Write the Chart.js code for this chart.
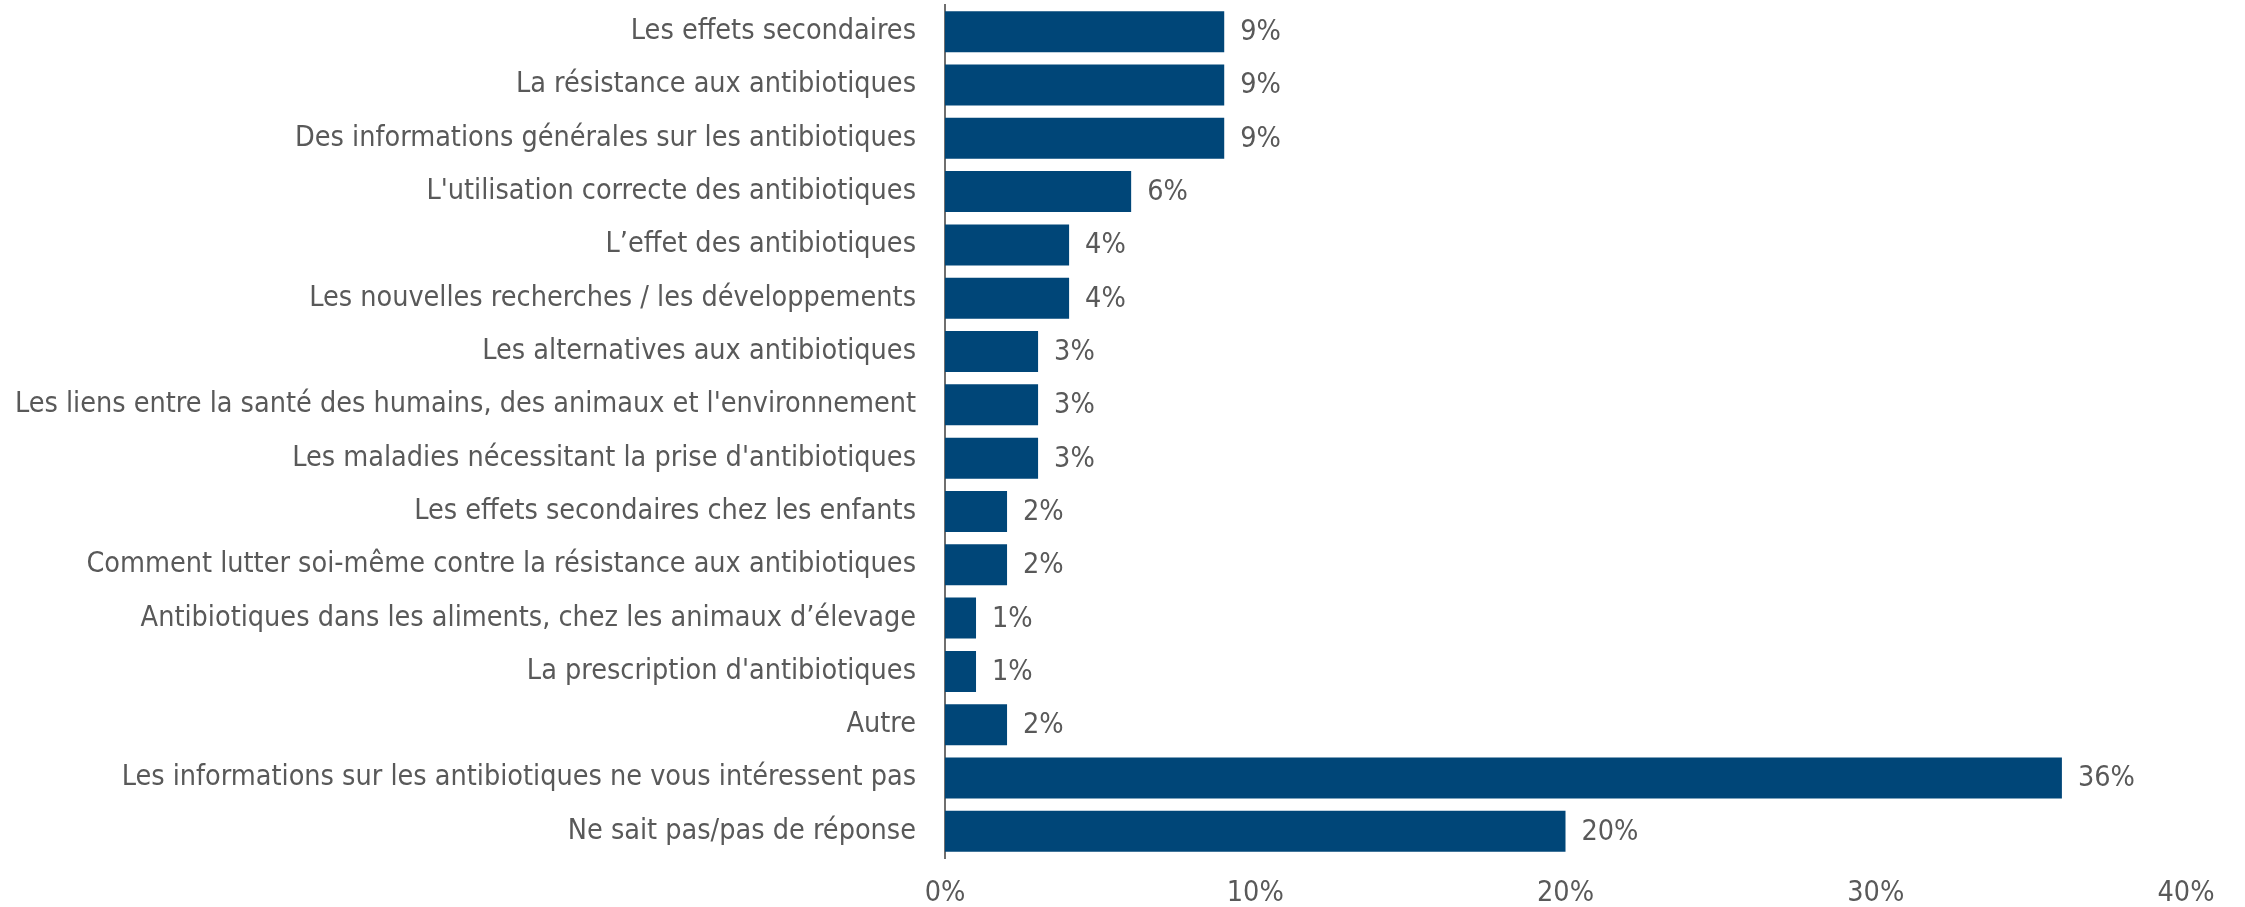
<!DOCTYPE html>
<html>
<head>
<meta charset="utf-8">
<script src="https://cdn.jsdelivr.net/npm/chart.js@4/dist/chart.umd.min.js"></script>
<style>
  html, body { margin: 0; padding: 0; background: #fff; }
  #wrap { width: 2245px; height: 907px; position: relative; }
</style>
</head>
<body>
<div id="wrap"><canvas id="chart"></canvas></div>
<script>
  const categories = [
    "Les effets secondaires",
    "La résistance aux antibiotiques",
    "Des informations générales sur les antibiotiques",
    "L'utilisation correcte des antibiotiques",
    "L’effet des antibiotiques",
    "Les nouvelles recherches / les développements",
    "Les alternatives aux antibiotiques",
    "Les liens entre la santé des humains, des animaux et l'environnement",
    "Les maladies nécessitant la prise d'antibiotiques",
    "Les effets secondaires chez les enfants",
    "Comment lutter soi-même contre la résistance aux antibiotiques",
    "Antibiotiques dans les aliments, chez les animaux d’élevage",
    "La prescription d'antibiotiques",
    "Autre",
    "Les informations sur les antibiotiques ne vous intéressent pas",
    "Ne sait pas/pas de réponse"
  ];
  const values = [9, 9, 9, 6, 4, 4, 3, 3, 3, 2, 2, 1, 1, 2, 36, 20];
  const xTicks = [0, 10, 20, 30, 40];

  const FONT = "'DejaVu Sans Condensed', 'Liberation Sans', sans-serif";
  const SIZE = 28.5;
  const TEXT = "#595959";
  const BAR = "#004678";

  // value labels at the end of each bar
  const valueLabels = {
    id: "valueLabels",
    afterDatasetsDraw(chart) {
      const ctx = chart.ctx;
      const meta = chart.getDatasetMeta(0);
      ctx.save();
      ctx.font = SIZE + "px " + FONT;
      ctx.fillStyle = TEXT;
      ctx.textAlign = "left";
      ctx.textBaseline = "middle";
      meta.data.forEach((bar, i) => {
        ctx.fillText(values[i] + "%", bar.x + 16, bar.y + 1);
      });
      ctx.restore();
    }
  };

  new Chart(document.getElementById("chart"), {
    type: "bar",
    data: {
      labels: categories,
      datasets: [{
        data: values,
        backgroundColor: BAR,
        borderWidth: 0,
        categoryPercentage: 1,
        barPercentage: 0.77
      }]
    },
    options: {
      indexAxis: "y",
      responsive: true,
      maintainAspectRatio: false,
      animation: false,
      layout: { padding: { top: 5, right: 59, bottom: 0, left: 0 } },
      plugins: { legend: { display: false }, tooltip: { enabled: false } },
      scales: {
        x: {
          min: 0,
          max: 40,
          afterBuildTicks(scale) { scale.ticks = xTicks.map(v => ({ value: v })); },
          afterFit(scale) {
            scale.height = 49;
            scale.paddingLeft = 0;
            scale.paddingRight = 0;
          },
          grid: { display: false, drawTicks: false },
          border: { display: false },
          ticks: {
            padding: 18,
            color: TEXT,
            font: { family: FONT, size: SIZE },
            callback: v => v + "%"
          }
        },
        y: {
          afterFit(scale) {
            scale.width = 945;
            scale.paddingTop = 0;
            scale.paddingBottom = 0;
          },
          grid: { display: false },
          border: { display: true, color: "#6f6f6f", width: 2 },
          ticks: {
            padding: 21,
            color: TEXT,
            font: { family: FONT, size: SIZE }
          }
        }
      }
    },
    plugins: [valueLabels]
  });
</script>
</body>
</html>
